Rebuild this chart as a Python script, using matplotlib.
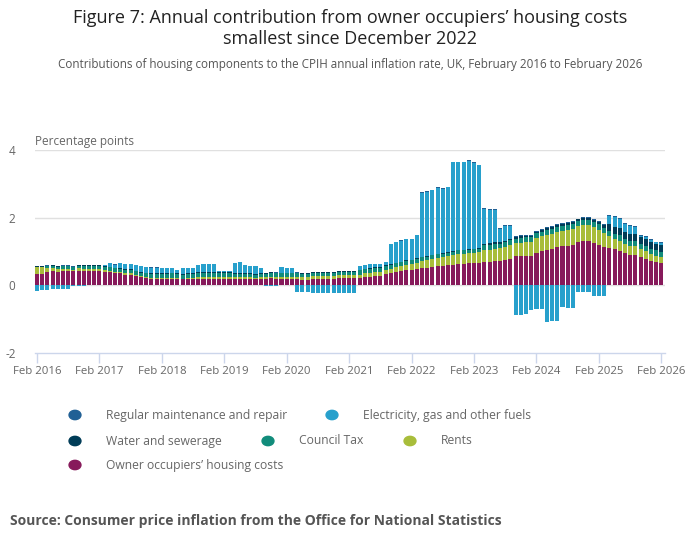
import numpy as np
import matplotlib.pyplot as plt

plt.rcParams['font.family'] = ['Open Sans', 'DejaVu Sans']

# monthly, Feb 2016 .. Feb 2026 (each row = Feb..Jan)
ooh = [0.34, 0.34, 0.38, 0.41, 0.38, 0.41, 0.41, 0.41, 0.43, 0.43, 0.43, 0.43,
       0.43, 0.40, 0.38, 0.35, 0.35, 0.32, 0.32, 0.28, 0.24, 0.22, 0.20, 0.20,
       0.20, 0.20, 0.20, 0.20, 0.18, 0.18, 0.18, 0.20, 0.20, 0.20, 0.20, 0.20,
       0.20, 0.20, 0.20, 0.20, 0.20, 0.20, 0.18, 0.20, 0.20, 0.22, 0.20, 0.20,
       0.20, 0.20, 0.20, 0.17, 0.17, 0.20, 0.20, 0.20, 0.20, 0.20, 0.22, 0.22,
       0.22, 0.23, 0.23, 0.26, 0.26, 0.29, 0.29, 0.33, 0.36, 0.39, 0.41, 0.44,
       0.46, 0.48, 0.50, 0.52, 0.55, 0.57, 0.58, 0.60, 0.61, 0.63, 0.64, 0.65,
       0.67, 0.67, 0.68, 0.70, 0.71, 0.73, 0.75, 0.79, 0.86, 0.86, 0.86, 0.86,
       0.95, 1.01, 1.04, 1.07, 1.13, 1.16, 1.16, 1.19, 1.28, 1.31, 1.31, 1.25,
       1.19, 1.13, 1.10, 1.07, 1.02, 0.95, 0.89, 0.89, 0.83, 0.77, 0.71, 0.68,
       0.65]

rents = [0.19, 0.19, 0.12, 0.10, 0.10, 0.08, 0.08, 0.05, 0.08, 0.06, 0.06, 0.06,
         0.06, 0.06, 0.05, 0.05, 0.04, 0.04, 0.04, 0.03, 0.03, 0.03, 0.03, 0.03,
         0.03, 0.03, 0.03, 0.02, 0.02, 0.03, 0.03, 0.04, 0.04, 0.04, 0.04, 0.04,
         0.04, 0.04, 0.04, 0.04, 0.04, 0.04, 0.04, 0.04, 0.04, 0.04, 0.05, 0.05,
         0.05, 0.05, 0.06, 0.07, 0.07, 0.07, 0.07, 0.07, 0.08, 0.08, 0.08, 0.08,
         0.08, 0.08, 0.09, 0.09, 0.10, 0.10, 0.11, 0.12, 0.13, 0.14, 0.15, 0.16,
         0.16, 0.18, 0.21, 0.22, 0.23, 0.25, 0.26, 0.27, 0.29, 0.30, 0.30, 0.30,
         0.30, 0.32, 0.35, 0.35, 0.36, 0.36, 0.38, 0.40, 0.38, 0.40, 0.42, 0.42,
         0.45, 0.44, 0.45, 0.44, 0.44, 0.45, 0.47, 0.47, 0.46, 0.47, 0.47, 0.46,
         0.46, 0.42, 0.35, 0.30, 0.30, 0.26, 0.27, 0.26, 0.23, 0.24, 0.22, 0.20,
         0.20]

council_tax = [0.02, 0.02, 0.06, 0.06, 0.07, 0.07, 0.07, 0.07, 0.07, 0.08, 0.08, 0.08,
               0.08, 0.08, 0.10, 0.10, 0.10, 0.10, 0.10, 0.10, 0.10, 0.10, 0.10, 0.10,
               0.10, 0.10, 0.12, 0.12, 0.12, 0.12, 0.12, 0.12, 0.12, 0.12, 0.12, 0.12,
               0.12, 0.12, 0.10, 0.10, 0.10, 0.10, 0.10, 0.10, 0.10, 0.10, 0.10, 0.10,
               0.10, 0.10, 0.09, 0.09, 0.09, 0.09, 0.09, 0.09, 0.09, 0.09, 0.09, 0.09,
               0.09, 0.09, 0.12, 0.12, 0.12, 0.12, 0.12, 0.12, 0.12, 0.12, 0.12, 0.12,
               0.12, 0.12, 0.12, 0.11, 0.11, 0.10, 0.10, 0.10, 0.10, 0.10, 0.09, 0.09,
               0.09, 0.09, 0.15, 0.15, 0.15, 0.14, 0.14, 0.14, 0.14, 0.14, 0.14, 0.14,
               0.14, 0.14, 0.15, 0.15, 0.15, 0.15, 0.15, 0.15, 0.15, 0.15, 0.15, 0.15,
               0.15, 0.15, 0.16, 0.16, 0.16, 0.16, 0.16, 0.16, 0.15, 0.15, 0.15, 0.15,
               0.15]

water = [0.01, 0.01, 0.02, 0.02, 0.02, 0.02, 0.02, 0.02, 0.02, 0.02, 0.02, 0.02,
         0.02, 0.02, 0.02, 0.02, 0.02, 0.02, 0.02, 0.02, 0.02, 0.02, 0.02, 0.02,
         0.02, 0.02, 0.02, 0.02, 0.02, 0.02, 0.02, 0.02, 0.02, 0.02, 0.02, 0.02,
         0.02, 0.02, 0.02, 0.02, 0.02, 0.02, 0.02, 0.02, 0.02, 0.02, 0.02, 0.02,
         0.02, 0.02, 0.02, 0.02, 0.02, 0.02, 0.02, 0.02, 0.02, 0.02, 0.02, 0.02,
         0.02, 0.02, 0.02, 0.02, 0.02, 0.02, 0.02, 0.02, 0.02, 0.02, 0.02, 0.02,
         0.02, 0.02, 0.02, 0.02, 0.02, 0.02, 0.02, 0.02, 0.02, 0.02, 0.02, 0.02,
         0.02, 0.02, 0.05, 0.05, 0.05, 0.05, 0.05, 0.05, 0.05, 0.05, 0.05, 0.05,
         0.05, 0.05, 0.06, 0.06, 0.06, 0.06, 0.06, 0.06, 0.06, 0.06, 0.06, 0.08,
         0.08, 0.08, 0.20, 0.20, 0.20, 0.20, 0.20, 0.20, 0.21, 0.21, 0.20, 0.20,
         0.20]

electricity = [-0.16, -0.14, -0.14, -0.10, -0.10, -0.10, -0.10, -0.03, -0.03, -0.02, 0.00, 0.00,
               0.00, 0.04, 0.10, 0.09, 0.15, 0.14, 0.14, 0.16, 0.18, 0.17, 0.17, 0.17,
               0.16, 0.16, 0.14, 0.09, 0.17, 0.16, 0.16, 0.21, 0.24, 0.24, 0.24, 0.04,
               0.04, 0.04, 0.30, 0.33, 0.23, 0.21, 0.23, 0.15, -0.03, -0.03, -0.03, 0.17,
               0.14, 0.14, -0.21, -0.21, -0.21, -0.22, -0.22, -0.22, -0.23, -0.23, -0.23, -0.22,
               -0.23, -0.22, 0.11, 0.11, 0.13, 0.10, 0.09, 0.10, 0.59, 0.60, 0.62, 0.63,
               0.60, 0.68, 1.89, 1.89, 1.90, 1.94, 1.89, 1.91, 2.62, 2.59, 2.59, 2.61,
               2.55, 2.45, 1.04, 0.99, 0.97, 0.39, 0.42, 0.36, -0.89, -0.89, -0.86, -0.74,
               -0.71, -0.71, -1.07, -1.04, -1.04, -0.65, -0.68, -0.68, -0.21, -0.21, -0.21, -0.33,
               -0.33, -0.33, 0.24, 0.29, 0.28, 0.24, 0.23, 0.21, 0.05, 0.07, 0.06, 0.04,
               0.05]

maintenance = [0.01, 0.01, 0.01, 0.01, 0.01, 0.01, 0.01, 0.01, 0.01, 0.01, 0.01, 0.01,
               0.01, 0.01, 0.01, 0.01, 0.01, 0.01, 0.01, 0.01, 0.01, 0.01, 0.01, 0.01,
               0.01, 0.01, 0.01, 0.01, 0.01, 0.01, 0.01, 0.01, 0.01, 0.01, 0.01, 0.01,
               0.01, 0.01, 0.01, 0.01, 0.01, 0.01, 0.01, 0.01, 0.01, 0.01, 0.01, 0.01,
               0.01, 0.01, 0.01, 0.01, 0.01, 0.01, 0.01, 0.01, 0.01, 0.01, 0.01, 0.01,
               0.01, 0.01, 0.01, 0.01, 0.01, 0.01, 0.01, 0.01, 0.01, 0.01, 0.01, 0.01,
               0.02, 0.02, 0.02, 0.02, 0.02, 0.02, 0.02, 0.02, 0.02, 0.02, 0.02, 0.02,
               0.02, 0.02, 0.03, 0.03, 0.03, 0.03, 0.03, 0.03, 0.03, 0.03, 0.03, 0.03,
               0.03, 0.03, 0.02, 0.02, 0.02, 0.02, 0.02, 0.02, 0.02, 0.02, 0.02, 0.02,
               0.02, 0.02, 0.02, 0.02, 0.02, 0.02, 0.02, 0.02, 0.02, 0.02, 0.02, 0.02,
               0.02]

tick_labels = ['Feb 2016', 'Feb 2017', 'Feb 2018', 'Feb 2019', 'Feb 2020', 'Feb 2021',
               'Feb 2022', 'Feb 2023', 'Feb 2024', 'Feb 2025', 'Feb 2026']

col_maint = '#206095'
col_elec = '#27a0cc'
col_water = '#003c57'
col_ct = '#118c7b'
col_rents = '#a8bd3a'
col_ooh = '#871a5b'

ooh = np.array(ooh)
rents = np.array(rents)
council_tax = np.array(council_tax)
water = np.array(water)
electricity = np.array(electricity)
maintenance = np.array(maintenance)
x = np.arange(len(ooh))

elec_pos = np.clip(electricity, 0, None)
elec_neg = np.clip(electricity, None, 0)

W, H = 700, 549
fig = plt.figure(figsize=(W / 100, H / 100), dpi=100)
ax = fig.add_axes([35 / W, (H - 353) / H, 630 / W, 203 / H])

w = 0.78
b = np.zeros(len(x))
ax.bar(x, ooh, w, bottom=b, color=col_ooh, zorder=2)
b = b + ooh
ax.bar(x, rents, w, bottom=b, color=col_rents, zorder=2)
b = b + rents
ax.bar(x, council_tax, w, bottom=b, color=col_ct, zorder=2)
b = b + council_tax
ax.bar(x, water, w, bottom=b, color=col_water, zorder=2)
b = b + water
ax.bar(x, elec_pos, w, bottom=b, color=col_elec, zorder=2)
b = b + elec_pos
ax.bar(x, maintenance, w, bottom=b, color=col_maint, zorder=2)
ax.bar(x, elec_neg, w, bottom=0, color=col_elec, zorder=2)

ax.set_xlim(-0.38, 120.7)
ax.set_ylim(-2, 4)
ax.set_yticks([-2, 0, 2, 4])
ax.set_yticklabels(['-2', '0', '2', '4'])
for yv in [0, 2, 4]:
    ax.axhline(yv, color='#e0e0e0', lw=1, zorder=1)

ax.set_xticks(np.arange(0, 121, 12))
ax.set_xticklabels(tick_labels)

for s in ['top', 'right', 'left']:
    ax.spines[s].set_visible(False)
ax.spines['bottom'].set_color('#ccd6eb')
ax.spines['bottom'].set_linewidth(1)
ax.tick_params(axis='x', colors='#ccd6eb', length=7, width=1, labelcolor='#666666',
               labelsize=8.2, pad=2)
ax.tick_params(axis='y', length=0, labelcolor='#666666', labelsize=8.5, pad=14)

fig.text(35 / W, 1 - 142 / H, 'Percentage points', fontsize=8.5, color='#666666',
         ha='left', va='center')

fig.text(0.5, 1 - 9 / H,
         'Figure 7: Annual contribution from owner occupiers\u2019 housing costs\nsmallest since December 2022',
         ha='center', va='top', fontsize=13, color='#222222', linespacing=1.22)
fig.text(0.5, 1 - 64 / H,
         'Contributions of housing components to the CPIH annual inflation rate, UK, February 2016 to February 2026',
         ha='center', va='center', fontsize=8.4, color='#555555')

legend_items = [
    (75, 415, col_maint, 'Regular maintenance and repair'),
    (332, 415, col_elec, 'Electricity, gas and other fuels'),
    (75, 441, col_water, 'Water and sewerage'),
    (268, 441, col_ct, 'Council Tax'),
    (410, 441, col_rents, 'Rents'),
    (75, 465, col_ooh, 'Owner occupiers\u2019 housing costs'),
]
for lx, ly, c, lab in legend_items:
    fig.patches.append(plt.Circle((lx / W, 1 - ly / H), 0.0085,
                                  transform=fig.transFigure, color=c,
                                  figure=fig))
    fig.text((lx + 31) / W, 1 - ly / H, lab, fontsize=8.7, color='#666666',
             ha='left', va='center')

fig.text(10 / W, 1 - 521 / H,
         'Source: Consumer price inflation from the Office for National Statistics',
         fontsize=10, fontweight='bold', color='#555555', ha='left', va='center')

fig.savefig('out.png', dpi=100)
